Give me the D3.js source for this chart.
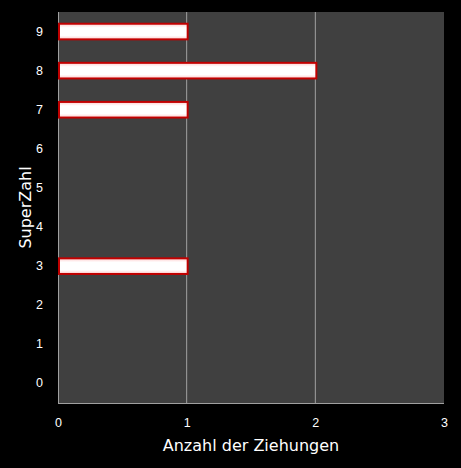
<!DOCTYPE html>
<html><head><meta charset="utf-8">
<script src="https://cdn.jsdelivr.net/npm/d3@7"></script>
<style>html,body{margin:0;padding:0;background:#000;}svg{display:block;}</style>
</head><body>
<script>
const categories = ["0","1","2","3","4","5","6","7","8","9"];
const values = [0,0,0,1,0,0,0,1,2,1];
const xTicks = [0,1,2,3];

const W = 461, H = 468;
const m = {left:58, right:17, top:12, bottom:65};
const iw = W - m.left - m.right, ih = H - m.top - m.bottom;

const svg = d3.select("body").append("svg").attr("width",W).attr("height",H)
  .style("font-family","'DejaVu Sans', Verdana, sans-serif");
svg.append("rect").attr("width",W).attr("height",H).attr("fill","#000");

const defs = svg.append("defs");
const grad = defs.append("linearGradient").attr("id","bg").attr("x1",0).attr("y1",0).attr("x2",0).attr("y2",1);
grad.append("stop").attr("offset","0%").attr("stop-color","#ffcccc");
grad.append("stop").attr("offset","25%").attr("stop-color","#ffffff");
grad.append("stop").attr("offset","75%").attr("stop-color","#ffffff");
grad.append("stop").attr("offset","100%").attr("stop-color","#ffcccc");

const g = svg.append("g").attr("transform",`translate(${m.left},${m.top})`);
const x = d3.scaleLinear().domain([0,3]).range([0,iw]);
const y = d3.scaleBand().domain(categories.slice().reverse()).range([0,ih]).paddingInner(0.6).paddingOuter(0.3);

g.append("rect").attr("width",iw).attr("height",ih).attr("fill","#404040");

g.selectAll("line.grid").data(xTicks.filter(t=>t>0 && t<3)).enter().append("line")
  .attr("class","grid").attr("x1",d=>x(d)).attr("x2",d=>x(d)).attr("y1",0).attr("y2",ih)
  .attr("stroke","#a0a0a0").attr("stroke-width",1);

g.append("line").attr("x1",0.5).attr("x2",0.5).attr("y1",0).attr("y2",ih).attr("stroke","#a0a0a0");
g.append("line").attr("x1",0).attr("x2",iw).attr("y1",ih+0.5).attr("y2",ih+0.5).attr("stroke","#a0a0a0");

const data = categories.map((c,i)=>({c, v:values[i]})).filter(d=>d.v>0);
g.selectAll("rect.bar").data(data).enter().append("rect").attr("class","bar")
  .attr("x",x(0)+1).attr("y",d=>y(d.c)).attr("width",d=>x(d.v)-x(0)).attr("height",y.bandwidth())
  .attr("fill","url(#bg)").attr("stroke","#c00000").attr("stroke-width",2);

const xAxis = d3.axisBottom(x).tickValues(xTicks).tickFormat(d3.format("d")).tickSize(0).tickPadding(15);
const xa = g.append("g").attr("transform",`translate(0,${ih})`).call(xAxis);
xa.select(".domain").remove();
xa.selectAll("text").attr("fill","#fff").style("font-size","12.5px");

const yAxis = d3.axisLeft(y).tickSize(0).tickPadding(15);
const ya = g.append("g").call(yAxis);
ya.select(".domain").remove();
ya.selectAll("text").attr("fill","#fff").style("font-size","12.5px");

svg.append("text").attr("x",m.left+iw/2).attr("y",451).attr("text-anchor","middle")
  .attr("fill","#fff").style("font-size","16px").text("Anzahl der Ziehungen");
svg.append("text").attr("transform",`translate(31,${m.top+ih/2}) rotate(-90)`).attr("text-anchor","middle")
  .attr("fill","#fff").style("font-size","16px").text("SuperZahl");
</script>
</body></html>
